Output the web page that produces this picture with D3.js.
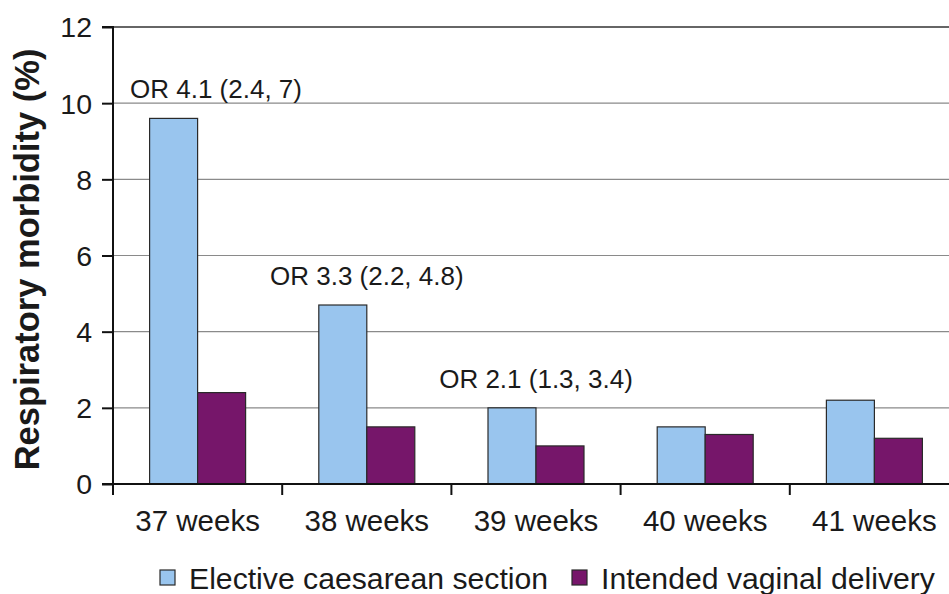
<!DOCTYPE html>
<html>
<head>
<meta charset="utf-8">
<script src="https://cdn.jsdelivr.net/npm/d3@7"></script>
<style>
  html, body { margin: 0; padding: 0; background: #fff; }
  svg { display: block; }
  text { font-family: Arial, "Liberation Sans", sans-serif; fill: #1a1a1a; }
</style>
</head>
<body>
<svg id="chart" width="949" height="594"></svg>
<script>
const categories = ["37 weeks", "38 weeks", "39 weeks", "40 weeks", "41 weeks"];
const seriesNames = ["Elective caesarean section", "Intended vaginal delivery"];
const electiveCS = [9.6, 4.7, 2.0, 1.5, 2.2];
const vaginal = [2.4, 1.5, 1.0, 1.3, 1.2];
const yTicks = [0, 2, 4, 6, 8, 10, 12];
const orLabels = ["OR 4.1 (2.4, 7)", "OR 3.3 (2.2, 4.8)", "OR 2.1 (1.3, 3.4)", null, null];
const yTitle = "Respiratory morbidity (%)";
const colors = ["#99c5ee", "#76166a"];

const svg = d3.select("#chart");
const plotLeft = 113, plotTop = 27, plotBottom = 484;
const step = 169.2;
const x0 = d3.scaleBand().domain(categories).range([plotLeft, plotLeft + step * categories.length]).padding(0);
const barW = 48;
const x1 = d3.scaleBand().domain(seriesNames)
  .range([x0.bandwidth() / 2 - barW, x0.bandwidth() / 2 + barW]).padding(0);
const y = d3.scaleLinear().domain([0, 12]).range([plotBottom, plotTop]);

// gridlines
svg.append("g").selectAll("line").data(yTicks.filter(d => d > 0)).join("line")
  .attr("x1", plotLeft).attr("x2", 949)
  .attr("y1", d => y(d)).attr("y2", d => y(d))
  .attr("stroke", d => d === 12 ? "#333" : "#8a8a8a").attr("stroke-width", d => d === 12 ? 1.5 : 1.2);

// bars
const data = categories.map((c, i) => ({ cat: c, vals: [electiveCS[i], vaginal[i]] }));
const groups = svg.append("g").selectAll("g").data(data).join("g")
  .attr("transform", d => `translate(${x0(d.cat)},0)`);
groups.selectAll("rect").data(d => d.vals.map((v, j) => ({ v, s: seriesNames[j], j }))).join("rect")
  .attr("x", d => x1(d.s)).attr("width", x1.bandwidth())
  .attr("y", d => y(d.v)).attr("height", d => y(0) - y(d.v))
  .attr("fill", d => colors[d.j]).attr("stroke", "#2a2a2a").attr("stroke-width", 1.2);

// y axis
const yAxis = d3.axisLeft(y).tickValues(yTicks).tickSize(11).tickPadding(10).tickFormat(d3.format("d"));
const gy = svg.append("g").attr("transform", `translate(${plotLeft},0)`).call(yAxis);
gy.select(".domain").attr("stroke", "#111").attr("stroke-width", 2).attr("d", `M-11,${plotTop}H0V${plotBottom}`);
gy.selectAll(".tick line").attr("stroke", "#111").attr("stroke-width", 2);
gy.selectAll(".tick text").style("font-size", "28.5px").style("font-family", "Arial, 'Liberation Sans', sans-serif").attr("fill", "#1a1a1a").attr("dy", "0.35em");

// x axis
svg.append("line").attr("x1", plotLeft - 11).attr("x2", 949).attr("y1", plotBottom).attr("y2", plotBottom)
  .attr("stroke", "#111").attr("stroke-width", 2);
svg.append("g").selectAll("line").data(categories).join("line")
  .attr("x1", d => x0(d)).attr("x2", d => x0(d))
  .attr("y1", plotBottom).attr("y2", plotBottom + 11)
  .attr("stroke", "#111").attr("stroke-width", 2);
svg.append("g").selectAll("text").data(categories).join("text")
  .attr("x", d => x0(d) + x0.bandwidth() / 2).attr("y", 531)
  .attr("text-anchor", "middle").style("font-size", "29.5px").text(d => d);

// OR labels
svg.append("g").selectAll("text").data(data.map((d, i) => ({ ...d, lab: orLabels[i] })).filter(d => d.lab)).join("text")
  .attr("x", d => Math.max(x0(d.cat) + x0.bandwidth() / 2, plotLeft + 18 + 85))
  .attr("y", d => y(d.vals[0]) - 20)
  .attr("text-anchor", "middle").style("font-size", "26px").text(d => d.lab);

// y title
svg.append("text").attr("transform", `translate(39,${(plotTop + plotBottom) / 2 + 4}) rotate(-90)`)
  .attr("text-anchor", "middle").style("font-size", "34.5px").style("font-weight", "bold").text(yTitle);

// legend
const legX = [160, 572];
const leg = svg.append("g").selectAll("g").data(seriesNames).join("g")
  .attr("transform", (d, i) => `translate(${legX[i]},570)`);
leg.append("rect").attr("width", 15).attr("height", 15)
  .attr("fill", (d, i) => colors[i]).attr("stroke", "#2a2a2a").attr("stroke-width", 1.2);
leg.append("text").attr("x", 29).attr("y", 18.5).style("font-size", "30.2px").text(d => d);
</script>
</body>
</html>
